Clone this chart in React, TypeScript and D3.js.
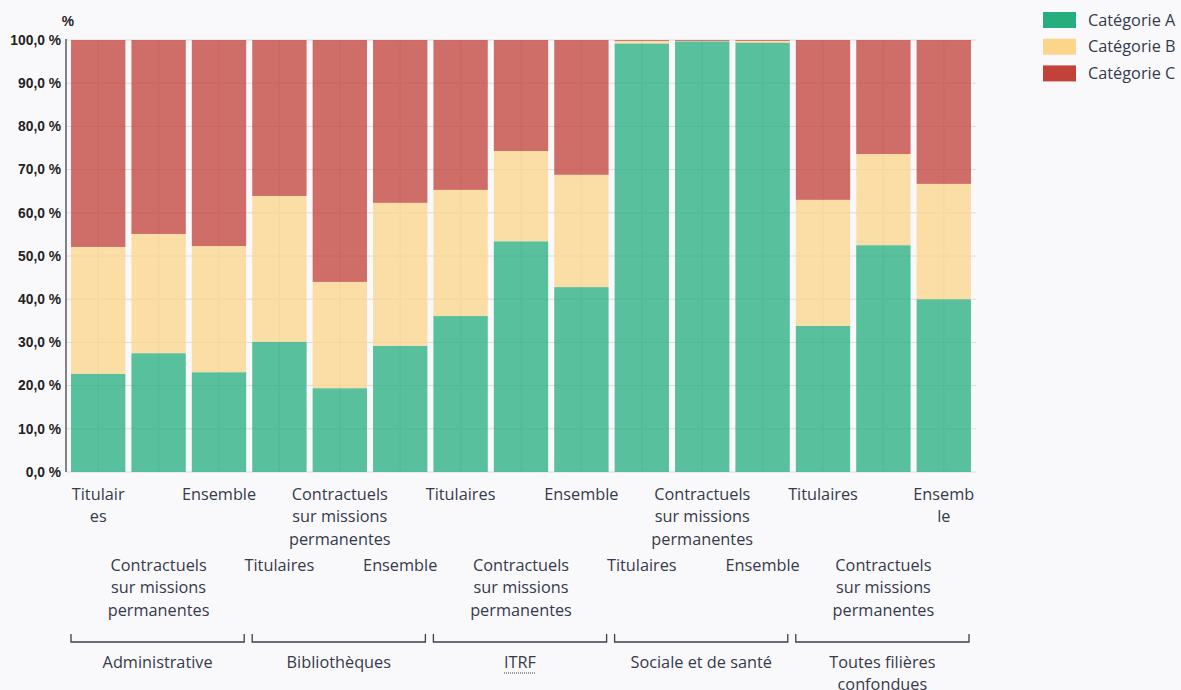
import React from "react";
import * as d3 from "d3";

const groups = ["Administrative", "Bibliothèques", "ITRF", "Sociale et de santé", "Toutes filières confondues"];
const groupLines = [["Administrative"], ["Bibliothèques"], ["ITRF"], ["Sociale et de santé"], ["Toutes filières", "confondues"]];
const subCategories = ["Titulaires", "Contractuels sur missions permanentes", "Ensemble"];
const categoryLines = [
  ["Titulair", "es"], ["Contractuels", "sur missions", "permanentes"], ["Ensemble"],
  ["Titulaires"], ["Contractuels", "sur missions", "permanentes"], ["Ensemble"],
  ["Titulaires"], ["Contractuels", "sur missions", "permanentes"], ["Ensemble"],
  ["Titulaires"], ["Contractuels", "sur missions", "permanentes"], ["Ensemble"],
  ["Titulaires"], ["Contractuels", "sur missions", "permanentes"], ["Ensemb", "le"],
];
const seriesNames = ["Catégorie A", "Catégorie B", "Catégorie C"];
const catA = [22.7, 27.5, 23.1, 30.1, 19.4, 29.2, 36.1, 53.4, 42.8, 99.2, 99.7, 99.4, 33.8, 52.5, 40.0];
const catB = [29.4, 27.6, 29.2, 33.8, 24.6, 33.1, 29.2, 20.9, 26.0, 0.6, 0.1, 0.4, 29.2, 21.1, 26.7];
const catC = [47.9, 44.9, 47.7, 36.1, 56.0, 37.7, 34.7, 25.7, 31.2, 0.2, 0.2, 0.2, 37.0, 26.4, 33.3];
const yTicks = [0, 10, 20, 30, 40, 50, 60, 70, 80, 90, 100];
const colors = ["#27ae7f", "#fbd58a", "#c2423a"];

const W = 1181, H = 690;
const left = 66, right = 976, top = 40, bottom = 472;
const FONT = "'Open Sans', sans-serif";
const TXT = "#363a4a";
const FS = 16.3;

export default function App() {
  const rows = catA.map((a, i) => ({
    idx: i,
    group: groups[Math.floor(i / 3)],
    sub: subCategories[i % 3],
    A: a, B: catB[i], C: catC[i],
  }));
  const keys = ["A", "B", "C"];
  const stacked = d3.stack<any>().keys(keys)(rows);
  const x = d3.scaleBand<number>().domain(d3.range(rows.length)).range([68, 974]).paddingInner(0.1).paddingOuter(0.05);
  const step = x.step();
  const y = d3.scaleLinear().domain([0, 100]).range([bottom, top]);
  const fmt = (v: number) => v.toFixed(1).replace(".", ",") + " %";

  return (
    <svg width={W} height={H} style={{ position: "absolute", left: 0, top: 0, background: "#f9f9fc" }} fontFamily={FONT}>
      <rect x={0} y={0} width={W} height={H} fill="#f9f9fc" />
      {yTicks.map((t) => (
        <line key={"h" + t} x1={left} x2={right} y1={y(t)} y2={y(t)} stroke="#dcdcdf" strokeWidth={1} />
      ))}
      {rows.map((r) => (
        <line key={"v" + r.idx} x1={x(r.idx)! + x.bandwidth() / 2} x2={x(r.idx)! + x.bandwidth() / 2} y1={top} y2={bottom} stroke="#dcdcdf" strokeWidth={1} />
      ))}
      {stacked.map((s, si) => (
        <g key={s.key} fill={colors[si]} fillOpacity={0.77}>
          {s.map((d, i) => (
            <rect key={i} x={x(i)} width={x.bandwidth()} y={y(d[1])} height={Math.max(0, y(d[0]) - y(d[1]))} />
          ))}
        </g>
      ))}
      <line x1={left} x2={left} y1={top - 1} y2={bottom} stroke="#333" strokeWidth={1.2} />
      {yTicks.map((t) => (
        <text key={"yt" + t} x={61} y={y(t)} dy="0.35em" textAnchor="end" fontFamily="'Liberation Sans', Arial, sans-serif" fontWeight="bold" fontSize={13.8} fill="#222">
          {fmt(t)}
        </text>
      ))}
      <text x={68} y={21} dy="0.35em" textAnchor="middle" fontFamily="'Liberation Sans', Arial, sans-serif" fontWeight="bold" fontSize={13.8} fill="#222">%</text>
      {rows.map((r, i) => {
        const cx = x(i)! + x.bandwidth() / 2;
        const y0 = i % 2 === 0 ? 494 : 565;
        return (
          <text key={"c" + i} x={cx} textAnchor="middle" fontSize={FS} fill={TXT}>
            {categoryLines[i].map((l, li) => (
              <tspan key={li} x={cx} y={y0 + li * 22.7} dy="0.35em">{l}</tspan>
            ))}
          </text>
        );
      })}
      {groups.map((g, gi) => {
        const gs = x(gi * 3)! - (step - x.bandwidth()) / 2;
        const ge = gs + 3 * step;
        const x1 = gs + 3, x2 = ge - 5;
        const cx = (x1 + x2) / 2;
        return (
          <g key={"g" + gi}>
            <path d={`M${x1},634V642H${x2}V634`} fill="none" stroke="#3b3f4a" strokeWidth={1.3} />
            <text x={cx} textAnchor="middle" fontSize={FS} fill={TXT}>
              {groupLines[gi].map((l, li) => (
                <tspan key={li} x={cx} y={662 + li * 22.7} dy="0.35em">{l}</tspan>
              ))}
            </text>
            {g === "ITRF" && (
              <line x1={cx - 16} x2={cx + 16} y1={673} y2={673} stroke={TXT} strokeWidth={1} strokeDasharray="1,1" />
            )}
          </g>
        );
      })}
      {seriesNames.map((n, i) => (
        <g key={"l" + i} transform={`translate(1043,${12 + i * 26.7})`}>
          <rect x={0} y={0} width={33} height={16} fill={colors[i]} />
          <text x={45} y={8} dy="0.35em" fontSize={FS} fill={TXT}>{n}</text>
        </g>
      ))}
    </svg>
  );
}
